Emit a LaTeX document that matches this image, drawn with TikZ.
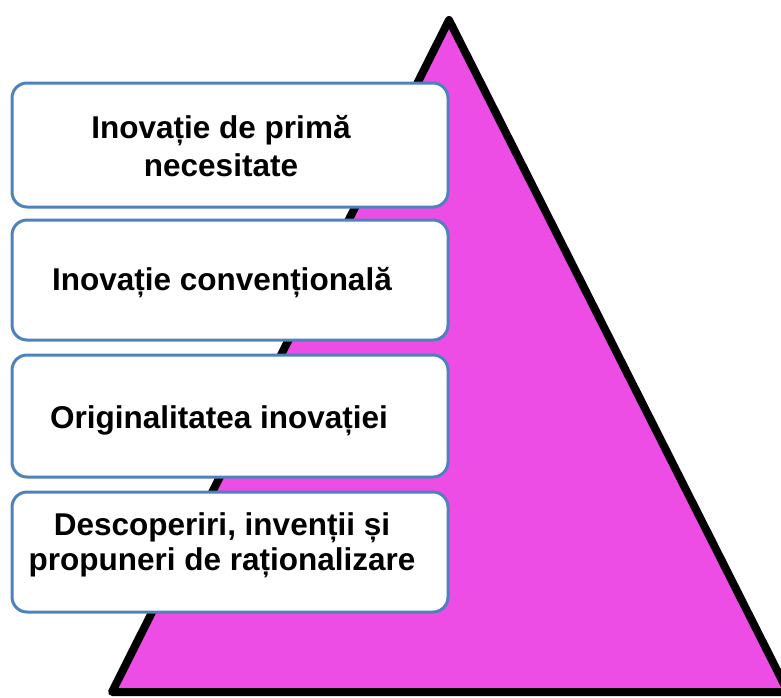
\documentclass[tikz,border=0pt]{standalone}
\usepackage{fontspec}
\setmainfont{Liberation Sans}
\definecolor{mag}{RGB}{237,76,229}
\definecolor{boxblue}{RGB}{79,129,189}
\tikzset{
  levelbox/.style={draw=boxblue, line width=3pt, fill=white, rounded corners=15pt, inner sep=0pt},
  leveltext/.style={anchor=base, align=center, inner sep=0pt, font=\bfseries\fontsize{31.5}{38}\selectfont}
}
\begin{document}
\begin{tikzpicture}[x=1pt,y=-1pt]
\useasboundingbox (0,0) rectangle (781,697);
\clip (0,0) rectangle (781,697);
\coordinate (apex) at (449,20);
\coordinate (bl) at (112,692);
\coordinate (br) at (788,692);
\draw[line width=8pt, fill=mag, line join=round] (apex) -- (bl) -- (br) -- cycle;
\node[levelbox, minimum width=436pt, minimum height=124pt] (b1) at (230,145) {};
\node[levelbox, minimum width=436pt, minimum height=120pt] (b2) at (230,280) {};
\node[levelbox, minimum width=436pt, minimum height=122pt] (b3) at (230,416) {};
\node[levelbox, minimum width=436pt, minimum height=120pt] (b4) at (230,552) {};
\node[leveltext] (t1) at (221,176) {Inovație de primă\\necesitate};
\node[leveltext] (t2) at (222,290) {Inovație convențională};
\node[leveltext] (t3) at (219,428) {Originalitatea inovației};
\node[leveltext, font=\bfseries\fontsize{31.5}{35}\selectfont] (t4) at (222,570) {Descoperiri, invenții și\\propuneri de raționalizare};
\end{tikzpicture}
\end{document}
